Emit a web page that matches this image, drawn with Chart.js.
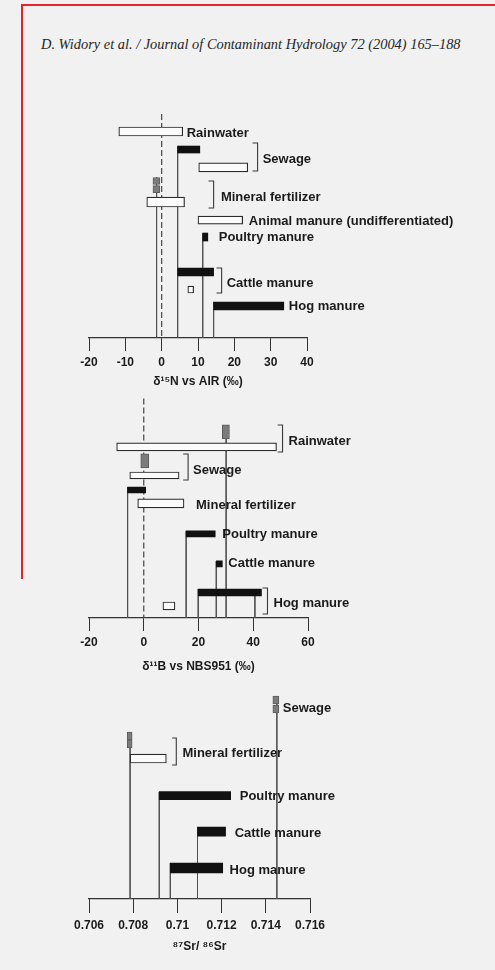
<!DOCTYPE html>
<html>
<head>
<meta charset="utf-8">
<script src="https://cdn.jsdelivr.net/npm/chart.js@4.4.1/dist/chart.umd.min.js"></script>
<style>
  html, body { margin: 0; padding: 0; }
  body { width: 495px; height: 970px; background: #f1f1f1; position: relative; overflow: hidden; }
  #frame { position: absolute; left: 21px; top: 4px; width: 480px; height: 573px;
           border-top: 2px solid #e3262b; border-left: 2px solid #e3262b; }
  #head { position: absolute; left: 41px; top: 36px; font: italic 14.4px "Liberation Serif", "Times New Roman", serif;
          color: #262626; white-space: nowrap; }
  canvas { position: absolute; left: 0; }
</style>
</head>
<body>
<div id="frame"></div>
<div id="head">D. Widory et al. / Journal of Contaminant Hydrology 72 (2004) 165–188</div>
<canvas id="cN" width="495" height="289" style="top:100px"></canvas>
<canvas id="cB" width="495" height="282" style="top:392px"></canvas>
<canvas id="cS" width="495" height="274" style="top:680px"></canvas>
<script>
// δ15N vs AIR (‰)
var n15Ticks = [-20, -10, 0, 10, 20, 30, 40];
var n15Open = [[-11.8, 5.8], [10.2, 23.7], [-4.1, 6.3], [10.0, 22.3], [7.2, 8.8]];
var n15Solid = [[4.4, 10.5], [11.3, 12.7], [4.4, 14.3], [14.3, 33.6]];
var n15Gray = [[-2.4, -0.5], [-2.4, -0.5]];
var n15Refs = [-1.4, 4.4, 11.3, 14.3];
var n15Labels = ['Rainwater', 'Sewage', 'Mineral fertilizer', 'Animal manure (undifferentiated)', 'Poultry manure', 'Cattle manure', 'Hog manure'];

// δ11B vs NBS951 (‰)
var b11Ticks = [-20, 0, 20, 40, 60];
var b11Open = [[-9.9, 48.5], [-5.1, 12.9], [-2.2, 14.7], [7.0, 11.4]];
var b11Solid = [[-5.9, 0.7], [15.5, 26.1], [26.5, 28.7], [19.9, 43.0]];
var b11Gray = [[28.7, 31.3], [-1.1, 1.8]];
var b11Refs = [30.1, -5.9, 15.5, 26.5, 19.9, 40.6];
var b11Labels = ['Rainwater', 'Sewage', 'Mineral fertilizer', 'Poultry manure', 'Cattle manure', 'Hog manure'];

// 87Sr/86Sr
var srTicks = [0.706, 0.708, 0.710, 0.712, 0.714, 0.716];
var srOpen = [[0.70786, 0.70950]];
var srSolid = [[0.70918, 0.71241], [0.71091, 0.71218], [0.70968, 0.71205]];
var srGray = [[0.71432, 0.71459], [0.71432, 0.71459], [0.70773, 0.70795], [0.70773, 0.70795]];
var srRefs = [0.70786, 0.70918, 0.70968, 0.71091, 0.71450];
var srLabels = ['Sewage', 'Mineral fertilizer', 'Poultry manure', 'Cattle manure', 'Hog manure'];

var FONT = '"Liberation Sans", Arial, Helvetica, sans-serif';
var INK = '#1a1a1a';

var styles = {
    open: { backgroundColor: '#fbfbfb', borderColor: '#2b2b2b', borderWidth: 1.2 },
    solid: { backgroundColor: '#111111', borderColor: '#111111', borderWidth: 0 },
    gray: { backgroundColor: '#7c7c7c', borderColor: '#5c5c5c', borderWidth: 1 }
};

// one floating horizontal bar per dataset, so each can keep its own thickness
function bars(ranges, rows, thick, kind) {
    return ranges.map(function (r, i) {
        return Object.assign({
            type: 'bar', grouped: false, borderSkipped: false,
            barThickness: thick[i], data: [{ x: r, y: rows[i] }], order: 1
        }, styles[kind]);
    });
}

// vertical drop lines down to the axis
function drops(values, fromRows, bottom, dashed) {
    return values.map(function (v, i) {
        return {
            type: 'line', data: [{ x: v, y: fromRows[i] }, { x: v, y: bottom }],
            borderColor: dashed ? '#444' : '#505050', borderWidth: dashed ? 1.2 : 0.9, pointRadius: 0, clip: false,
            borderDash: dashed ? [6, 3] : [], order: 2
        };
    });
}

// "]" shaped brackets: [arm start, upright, top row, bottom row]
function brackets(list) {
    return list.map(function (b) {
        return {
            type: 'line', data: [{ x: b[0], y: b[2] }, { x: b[1], y: b[2] }, { x: b[1], y: b[3] }, { x: b[0], y: b[3] }],
            borderColor: '#3a3a3a', borderWidth: 1.1, pointRadius: 0, clip: false, order: 2
        };
    });
}

var sideLabels = {
    id: 'sideLabels',
    afterDatasetsDraw: function (chart, args, opts) {
        var ctx = chart.ctx, x = chart.scales.x, y = chart.scales.y;
        ctx.save();
        ctx.font = 'bold 13px ' + FONT;
        ctx.fillStyle = INK;
        ctx.textBaseline = 'middle';
        opts.items.forEach(function (it) {
            ctx.fillText(it[0], x.getPixelForValue(it[1]), y.getPixelForValue(it[2]));
        });
        ctx.restore();
    }
};

function panel(id, p) {
    new Chart(document.getElementById(id), {
        type: 'bar',
        data: { datasets: p.datasets },
        plugins: [sideLabels],
        options: {
            indexAxis: 'y',
            responsive: false, animation: false, events: [],
            layout: { padding: { left: 89, right: 495 - p.right, top: p.padTop, bottom: 0 } },
            plugins: {
                legend: { display: false }, tooltip: { enabled: false },
                sideLabels: { items: p.labels }
            },
            scales: {
                x: {
                    type: 'linear', min: p.ticks[0], max: p.ticks[p.ticks.length - 1], offset: false,
                    afterBuildTicks: function (s) { s.ticks = p.ticks.map(function (v) { return { value: v }; }); },
                    afterFit: function (s) { s.height = p.axisH; },
                    grid: { display: true, offset: false, drawOnChartArea: false, drawTicks: true, tickLength: p.tickLen, color: '#333', lineWidth: 1 },
                    border: { display: true, color: '#333', width: 1.2 },
                    ticks: {
                        padding: p.tickPad, color: INK, maxRotation: 0, autoSkip: false,
                        font: { family: FONT, size: 12, weight: 'bold' },
                        callback: function (v) { return String(+v.toFixed(3)); }
                    },
                    title: {
                        display: true, text: p.title, color: INK, padding: { top: 0, bottom: 0 },
                        font: { family: FONT, size: 12, weight: 'bold' }
                    }
                },
                y: { type: 'linear', reverse: true, min: p.yMin, max: p.yMax, display: false, offset: false, grid: { offset: false } }
            }
        }
    });
}

// δ15N panel
var nMin = -1.0, nMax = 11.8;
panel('cN', {
    ticks: n15Ticks, right: 307, padTop: 14, axisH: 51, tickLen: 13, tickPad: 4,
    yMin: nMin, yMax: nMax, title: 'δ¹⁵N vs AIR (‰)',
    datasets: [].concat(
        bars(n15Open, [0, 2.05, 4.03, 5.06, 9.03], [9, 9, 10, 8, 7], 'open'),
        bars(n15Solid, [1.03, 6.03, 8.03, 9.97], [7, 8, 8, 8], 'solid'),
        bars(n15Gray, [2.83, 3.29], [7, 7], 'gray'),
        drops([0], [nMin], nMax, true),
        drops(n15Refs, [2.6, 0.83, 5.8, 9.74], nMax, false),
        brackets([[25.0, 26.4, 0.66, 2.26], [12.9, 14.3, 2.83, 4.37], [15.1, 16.5, 7.8, 9.23]])
    ),
    labels: [
        [n15Labels[0], 6.9, 0.1], [n15Labels[1], 27.8, 1.57], [n15Labels[2], 16.3, 3.74],
        [n15Labels[3], 24.0, 5.11], [n15Labels[4], 15.7, 6.06], [n15Labels[5], 17.9, 8.66],
        [n15Labels[6], 35.0, 9.97]
    ]
});

// δ11B panel
var bMin = -2.3, bMax = 12.83;
panel('cB', {
    ticks: b11Ticks, right: 308, padTop: 6.6, axisH: 56, tickLen: 13, tickPad: 4,
    yMin: bMin, yMax: bMax, title: 'δ¹¹B vs NBS951 (‰)',
    datasets: [].concat(
        bars(b11Open, [1.03, 3.0, 4.93, 12.0], [8, 7, 9, 8], 'open'),
        bars(b11Solid, [4.0, 7.03, 9.1, 11.07], [6, 6, 6, 7], 'solid'),
        bars(b11Gray, [0, 2.0], [14, 14], 'gray'),
        drops([0], [bMin], bMax, true),
        drops(b11Refs, [-0.48, 3.8, 6.83, 8.9, 10.83, 11.07], bMax, false),
        brackets([[48.9, 50.7, -0.48, 1.38], [14.4, 16.2, 1.52, 3.31], [43.4, 45.2, 10.76, 12.55]])
    ),
    labels: [
        [b11Labels[0], 52.9, 0.62], [b11Labels[1], 18.0, 2.62], [b11Labels[2], 19.1, 5.1],
        [b11Labels[3], 28.7, 7.1], [b11Labels[4], 30.9, 9.1], [b11Labels[5], 47.4, 11.8]
    ]
});

// 87Sr/86Sr panel
var sMin = -0.55, sMax = 10.8;
panel('cS', {
    ticks: srTicks, right: 310, padTop: 14.6, axisH: 55, tickLen: 14, tickPad: 5,
    yMin: sMin, yMax: sMax, title: '⁸⁷Sr/ ⁸⁶Sr',
    datasets: [].concat(
        bars(srOpen, [3.0], [9], 'open'),
        bars(srSolid, [5.06, 7.06, 9.08], [8, 9, 10], 'solid'),
        bars(srGray, [-0.25, 0.25, 1.75, 2.19], [8, 8, 8, 8], 'gray'),
        drops(srRefs, [1.53, 4.86, 8.8, 6.8, -0.47], sMax, false),
        brackets([[0.70976, 0.70995, 1.86, 3.36]])
    ),
    labels: [
        [srLabels[0], 0.71477, 0.19], [srLabels[1], 0.71023, 2.69], [srLabels[2], 0.71282, 5.08],
        [srLabels[3], 0.71259, 7.14], [srLabels[4], 0.71236, 9.19]
    ]
});
</script>
</body>
</html>
